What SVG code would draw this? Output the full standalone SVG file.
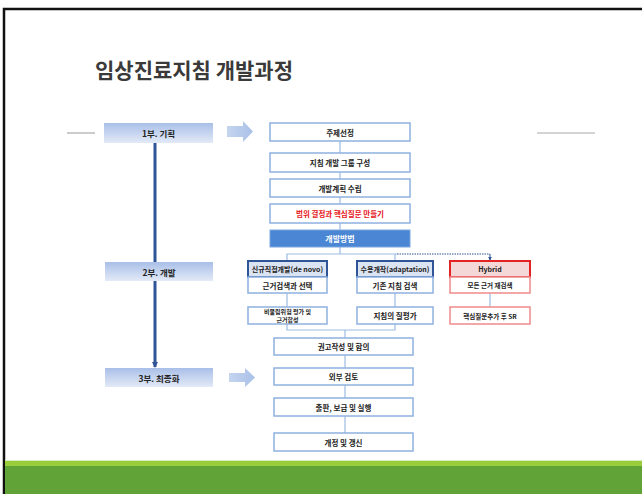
<svg xmlns="http://www.w3.org/2000/svg" width="642" height="494" viewBox="0 0 642 494">
<defs>
<linearGradient id="ph" x1="0" y1="0" x2="0" y2="1">
<stop offset="0" stop-color="#a9bfe8"/><stop offset="1" stop-color="#e3eaf7"/>
</linearGradient>
<linearGradient id="ar" x1="0" y1="0" x2="1" y2="0">
<stop offset="0" stop-color="#c5d5ef"/><stop offset="1" stop-color="#a9c0e8"/>
</linearGradient>
<marker id="ah" viewBox="0 0 6 6" refX="5" refY="3" markerWidth="6" markerHeight="6" markerUnits="userSpaceOnUse" orient="auto">
<path d="M0,0 L6,3 L0,6 z" fill="#2f5597"/>
</marker>
<marker id="ah2" viewBox="0 0 6 6" refX="5" refY="3" markerWidth="4" markerHeight="4" markerUnits="userSpaceOnUse" orient="auto">
<path d="M0,0 L6,3 L0,6 z" fill="#2f5597"/>
</marker>
<style>
.t{font-family:"Noto Sans CJK KR","Noto Sans",sans-serif;font-weight:bold;text-anchor:middle;dominant-baseline:central}
.ph{fill:url(#ph)}
.bx{fill:#fff;stroke:#8fb1e0;stroke-width:1.5}
.rbx{fill:#fff;stroke:#f08a8a;stroke-width:1.5}
.c{fill:none;stroke:#9dbbe3;stroke-width:1.2}
.s{font-size:7.5px;fill:#222}
.p{font-size:8.5px;fill:#222}
</style>
</defs>
<rect width="642" height="494" fill="#fff"/>
<path d="M4,494 V9 H642" fill="none" stroke="#111" stroke-width="2.5"/>
<rect x="5" y="460" width="637" height="1.5" fill="#d9ebc0"/>
<rect x="5" y="461" width="637" height="5" fill="#9acd3c"/>
<rect x="5" y="466" width="637" height="28" fill="#62a338"/>

<text x="95" y="78" style="font-family:'Noto Sans CJK KR',sans-serif;font-size:21px;font-weight:bold;fill:#3a3a3a">임상진료지침 개발과정</text>

<g id="connectors">
<line x1="67" y1="133" x2="95" y2="133" stroke="#aaa" stroke-width="1.2"/>
<line x1="537" y1="133" x2="595" y2="133" stroke="#aaa" stroke-width="1.2"/>
<line x1="155" y1="143" x2="155" y2="262" stroke="#2f5597" stroke-width="3"/>
<line x1="155" y1="281" x2="155" y2="367" stroke="#2f5597" stroke-width="3" marker-end="url(#ah)"/>
<path class="c" d="M340,141 V153 M340,172 V179 M340,197 V204 M340,223 V230 M340,247 V254 M287,261 V254 H397 M395,254 V261 M287,293 V307 M395,293 V307 M490,293 V307 M287,324 V330 H395 V324 M345,330 V338 M345,355 V368 M345,385 V398 M345,416 V433"/>
<line x1="397" y1="254" x2="490" y2="254" stroke="#2f5597" stroke-width="1" stroke-dasharray="1.5,1"/>
<line x1="490" y1="254" x2="490" y2="260" stroke="#2f5597" stroke-width="1" marker-end="url(#ah2)"/>
</g>

<g id="phase1"><rect class="ph" x="104" y="123" width="109" height="20"/><text class="t p" x="158.5" y="133">1부. 기획</text></g>
<g id="phase2"><rect class="ph" x="105" y="262" width="108" height="19"/><text class="t p" x="159" y="271.5">2부. 개발</text></g>
<g id="phase3"><rect class="ph" x="105" y="368" width="108" height="19"/><text class="t p" x="159" y="377.5">3부. 최종화</text></g>
<g id="arrow1"><path d="M227,126 H243 V121 L253,131.5 L243,142 V137 H227 z" fill="url(#ar)"/></g>
<g id="arrow3"><path d="M229,373 H245 V368 L255,377.5 L245,387 V382 H229 z" fill="url(#ar)"/></g>

<g id="n1"><rect class="bx" x="270" y="123" width="140" height="18"/><text class="t s" x="340" y="132">주제선정</text></g>
<g id="n2"><rect class="bx" x="270" y="153" width="140" height="19"/><text class="t s" x="340" y="162.5">지침 개발 그룹 구성</text></g>
<g id="n3"><rect class="bx" x="270" y="179" width="140" height="18"/><text class="t s" x="340" y="188">개발계획 수립</text></g>
<g id="n4"><rect class="bx" x="270" y="204" width="140" height="19"/><text class="t s" x="340" y="213.5" style="fill:#e8141a">범위 결정과 핵심질문 만들기</text></g>
<g id="n5"><rect x="270" y="230" width="140" height="17" fill="#4a86d4" stroke="#7aa6e0" stroke-width="1"/><text class="t" x="340" y="238.5" style="font-size:8px;fill:#fff">개발방법</text></g>

<g id="denovo"><rect x="248" y="261" width="79" height="16" fill="#dbe4f3" stroke="#2f5597" stroke-width="2"/><text class="t" x="287.5" y="269" style="font-size:7px;fill:#222">신규직접개발(de novo)</text></g>
<g id="denovo2"><rect class="bx" x="248" y="277" width="79" height="16"/><text class="t s" x="287.5" y="285">근거검색과 선택</text></g>
<g id="adapt"><rect x="357" y="261" width="76" height="16" fill="#dbe4f3" stroke="#2f5597" stroke-width="2"/><text class="t" x="395" y="269" style="font-size:7px;fill:#222">수용개작(adaptation)</text></g>
<g id="adapt2"><rect class="bx" x="357" y="277" width="76" height="16"/><text class="t s" x="395" y="285">기존 지침 검색</text></g>
<g id="hybrid"><rect x="450" y="261" width="80" height="16" fill="#f4d7d7" stroke="#e52222" stroke-width="2"/><text class="t" x="490" y="269" style="font-size:7px;fill:#222">Hybrid</text></g>
<g id="hybrid2"><rect class="rbx" x="450" y="277" width="80" height="16"/><text class="t" x="490" y="285" style="font-size:6.5px;fill:#222">모든 근거 재검색</text></g>

<g id="denovo3"><rect class="bx" x="248" y="307" width="79" height="17"/><text class="t" x="287.5" y="311.8" style="font-size:6px;fill:#222">비뚤림위험 평가 및</text><text class="t" x="287.5" y="319.3" style="font-size:6px;fill:#222">근거합성</text></g>
<g id="adapt3"><rect class="bx" x="357" y="307" width="76" height="17"/><text class="t s" x="395" y="315.5">지침의 질평가</text></g>
<g id="hybrid3"><rect class="rbx" x="450" y="307" width="80" height="17"/><text class="t" x="490" y="315.5" style="font-size:6.5px;fill:#222">핵심질문추가 후 SR</text></g>

<g id="n6"><rect class="bx" x="274" y="338" width="139" height="17"/><text class="t s" x="343.5" y="346.5">권고작성 및 합의</text></g>
<g id="n7"><rect class="bx" x="274" y="368" width="139" height="17"/><text class="t s" x="343.5" y="376.5">외부 검토</text></g>
<g id="n8"><rect class="bx" x="274" y="398" width="139" height="18"/><text class="t s" x="343.5" y="407">출판, 보급 및 실행</text></g>
<g id="n9"><rect class="bx" x="274" y="433" width="139" height="18"/><text class="t s" x="343.5" y="442">개정 및 갱신</text></g>
</svg>
